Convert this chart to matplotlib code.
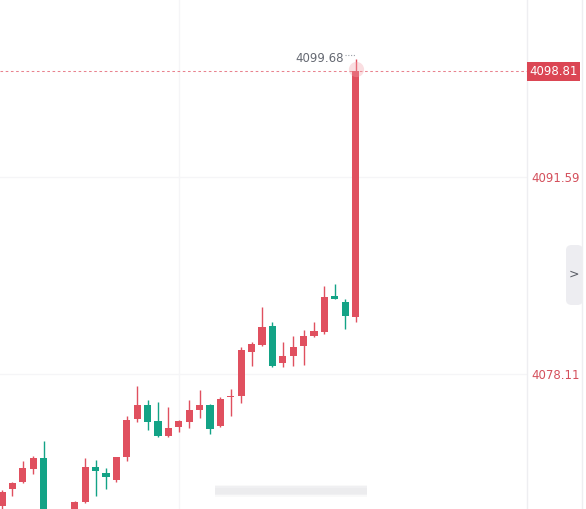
import matplotlib
matplotlib.use("Agg")
import matplotlib.pyplot as plt
from matplotlib.patches import FancyBboxPatch
import numpy as np

# candle data (oldest -> newest)
opens = [4069.08, 4070.24, 4070.72, 4071.61, 4072.36, 4067.60, 4067.10, 4068.46,
         4069.35, 4071.75, 4071.34, 4070.86, 4072.43, 4075.03, 4075.99, 4074.89,
         4073.87, 4074.48, 4074.83, 4075.65, 4075.99, 4074.55, 4076.54, 4076.61,
         4079.62, 4080.10, 4081.40, 4078.86, 4079.34, 4080.03, 4080.71, 4080.98,
         4083.45, 4083.04, 4082.01]
highs = [4070.17, 4070.72, 4072.16, 4072.50, 4073.53, 4067.90, 4068.30, 4069.42,
         4072.36, 4072.23, 4071.68, 4072.45, 4075.24, 4077.29, 4076.33, 4076.19,
         4075.85, 4074.96, 4076.33, 4077.02, 4076.06, 4076.54, 4077.08, 4079.96,
         4080.30, 4082.70, 4081.67, 4080.30, 4080.71, 4081.12, 4081.67, 4084.13,
         4084.27, 4083.24, 4099.68]
lows = [4068.67, 4069.76, 4070.65, 4071.27, 4067.44, 4066.80, 4066.90, 4068.26,
        4069.28, 4069.76, 4070.24, 4070.72, 4072.16, 4074.83, 4074.28, 4073.80,
        4073.80, 4074.14, 4074.42, 4075.10, 4074.00, 4074.48, 4075.24, 4076.13,
        4078.66, 4080.03, 4078.59, 4078.59, 4078.66, 4078.73, 4080.64, 4080.85,
        4083.24, 4081.19, 4081.67]
closes = [4070.04, 4070.65, 4071.68, 4072.36, 4067.78, 4067.00, 4068.20, 4069.35,
          4071.75, 4071.47, 4071.06, 4072.43, 4074.96, 4075.99, 4074.83, 4073.87,
          4074.42, 4074.89, 4075.65, 4075.99, 4074.35, 4076.40, 4076.61, 4079.75,
          4080.16, 4081.33, 4078.66, 4079.34, 4079.96, 4080.71, 4081.05, 4083.38,
          4083.24, 4082.08, 4098.81]

axis_ticks = [4078.11, 4091.59]
last_price = 4098.81
session_high = 4099.68

UP = "#e0505f"
DOWN = "#13a386"
GRID = "#f5f5f7"

fig = plt.figure(figsize=(5.86, 5.09), dpi=100)
ax = fig.add_axes([0, 0, 527 / 586, 1])

x = np.arange(len(opens))
o = np.array(opens)
c = np.array(closes)
colors = [UP if cc >= oo else DOWN for oo, cc in zip(o, c)]
bottoms = np.minimum(o, c)
heights = np.maximum(np.abs(c - o), 0.07)

ax.vlines(x, lows, highs, colors=colors, linewidth=1.0, zorder=3)
ax.bar(x, heights, bottom=bottoms, width=0.68, color=colors, linewidth=0, zorder=4)

ax.set_xlim(-0.19, 50.48)
ax.set_ylim(4068.87, 4103.70)

# grid
for t in axis_ticks:
    ax.axhline(t, color=GRID, linewidth=1.0, zorder=0)
ax.axvline(17, color=GRID, linewidth=1.0, zorder=0)

# current price line
ax.axhline(last_price, color="#e9828e", linewidth=0.75, linestyle=(0, (2.5, 2.5)), zorder=2)

# glow on the last candle
ax.scatter([x[-1]], [last_price + 0.2], s=120, color="#f3a3ab", alpha=0.35, zorder=5, linewidths=0)

# high annotation
ax.text(x[-1] - 1.15, session_high, f"{session_high:.2f}", ha="right", va="center",
        fontsize=8.5, color="#666a73", zorder=6)
ax.plot([x[-1] - 1.05, x[-1]], [session_high + 0.25, session_high + 0.25], color="#9aa0a8",
        linewidth=0.8, linestyle=(0, (1, 1.5)), zorder=6)

# axis
for s in ["top", "left", "bottom"]:
    ax.spines[s].set_visible(False)
ax.spines["right"].set_color("#eeeef1")
ax.spines["right"].set_linewidth(1.0)
ax.set_xticks([])
ax.yaxis.tick_right()
ax.set_yticks(axis_ticks)
ax.set_yticklabels([f"{t:.2f}" for t in axis_ticks])
ax.tick_params(axis="y", length=0, pad=3, labelsize=8.5, labelcolor="#d4505c")

# last price tag
ax.text(1.004, last_price, f"{last_price:.2f}", transform=ax.get_yaxis_transform(),
        ha="left", va="center", fontsize=8.5, color="white", zorder=7,
        bbox=dict(boxstyle="square,pad=0.22", facecolor="#db4654", edgecolor="none"))

# right panel edge and collapse tab
fig.add_artist(plt.Line2D([582 / 586, 582 / 586], [0, 1], color="#eeeef1", linewidth=1.0))
tab = FancyBboxPatch((566 / 586, 1 - 305 / 509), 17 / 586, 60 / 509,
                     boxstyle="round,pad=0,rounding_size=0.01", transform=fig.transFigure,
                     facecolor="#ededf1", edgecolor="none")
fig.add_artist(tab)
fig.text(573.5 / 586, 1 - 274 / 509, ">", ha="center", va="center", fontsize=9,
         color="#5a5d66")

# blurred watermark at the bottom
for dy, a in [(0, 0.25), (1.5, 0.15), (-1.5, 0.15)]:
    fig.add_artist(plt.Rectangle((215 / 586, (14 + dy) / 509), 152 / 586, 9 / 509,
                                 transform=fig.transFigure, facecolor="#d8d8dc",
                                 edgecolor="none", alpha=a))

fig.savefig("out.png", dpi=100)
